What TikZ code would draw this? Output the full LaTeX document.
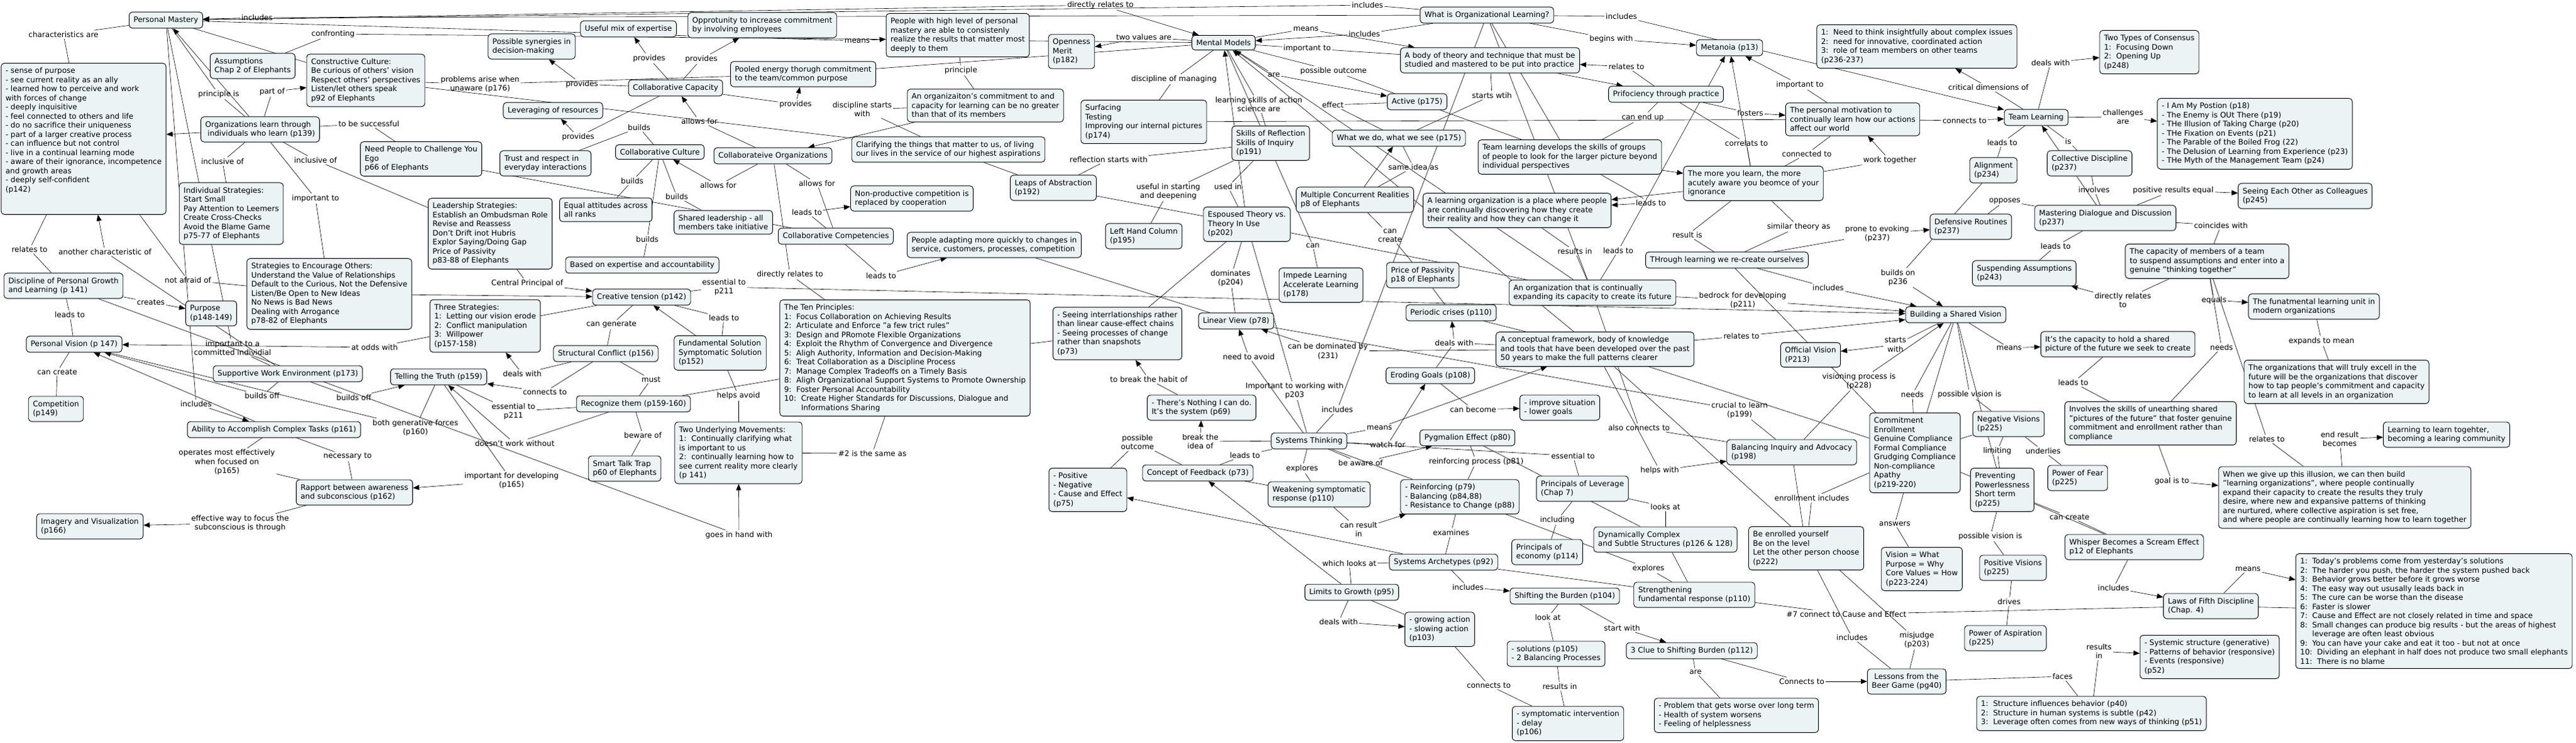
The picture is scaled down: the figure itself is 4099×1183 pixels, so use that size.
\documentclass[tikz,border=0pt]{standalone}
\usepackage{fontspec}
\setmainfont{DejaVu Sans}
\usetikzlibrary{arrows.meta,backgrounds}
\definecolor{cmfill}{RGB}{236,243,245}

\begin{document}
\begin{tikzpicture}[x=1pt,y=-1pt,>={Triangle[length=10pt,width=8pt]},
    every edge/.style={draw,line width=0.6pt},
    concept/.style={draw,line width=0.9pt,rounded corners=5pt,fill=cmfill,align=left,
      inner xsep=7pt,inner ysep=7pt,font=\fontsize{12}{14.5}\selectfont},
    link/.style={align=center,inner sep=2pt,font=\fontsize{12}{14.5}\selectfont}]
  \useasboundingbox (0,0) rectangle (4099,1183);

  % personal mastery
  \node[concept] (pm) at (264,32) {Personal Mastery};
  \node[concept] (pmlist) at (133,221) {- sense of purpose\\- see current reality as an ally\\- learned how to perceive and work\\with forces of change\\- deeply inquisitive\\- feel connected to others and life\\- do no sacrifice their uniqueness\\- part of a larger creative process\\- can influence but not control\\- live in a continual learning mode\\- aware of their ignorance, incompetence\\and growth areas\\- deeply self-confident\\(p142)\\~\\~};
  \node[concept] (assum) at (402,105) {Assumptions\\Chap 2 of Elephants};
  \node[concept] (cculture) at (582,128) {Constructive Culture:\\Be curious of others' vision\\Respect others' perspectives\\Listen/let others speak\\p92 of Elephants};
  \node[concept] (orglearn) at (414,206) {Organizations learn through\\\ individuals who learn (p139)};
  \node[concept] (needppl) at (670,253) {Need People to Challenge You\\Ego\\p66 of Elephants};
  \node[concept] (indstrat) at (368,340) {Individual Strategies:\\Start Small\\Pay Attention to Leemers\\Create Cross-Checks\\Avoid the Blame Game\\p75-77 of Elephants};
  \node[concept] (encour) at (524,468) {Strategies to Encourage Others:\\Understand the Value of Relationships\\Default to the Curious, Not the Defensive\\Listen/Be Open to New Ideas\\No News is Bad News\\Dealing with Arrogance\\p78-82 of Elephants};
  \node[concept] (discpg) at (101,455) {Discipline of Personal Growth\\and Learning (p 141)};
  \node[concept] (purpose) at (336,499) {Purpose\\(p148-149)};
  \node[concept] (pvision) at (118,548) {Personal Vision (p 147)};
  \node[concept] (supwork) at (458,595) {Supportive Work Environment (p173)};
  \node[concept] (truth) at (698,600) {Telling the Truth (p159)};
  \node[concept] (compet) at (89,651) {Competition\\(p149)};
  \node[concept] (ability) at (436,684) {Ability to Accomplish Complex Tasks (p161)};
  \node[concept] (rapport) at (564,784) {Rapport between awareness\\and subconscious (p162)};
  \node[concept] (imagery) at (143,838) {Imagery and Visualization\\(p166)};

  % collaboration
  \node[concept] (useful) at (1000,46) {Useful mix of expertise};
  \node[concept] (opport) at (1213,40) {Opprotunity to increase commitment\\by involving employees};
  \node[concept] (synerg) at (846,74) {Possible synergies in\\decision-making};
  \node[concept] (pooled) at (1278,118) {Pooled energy thorugh commitment\\to the team/common purpose};
  \node[concept] (ccap) at (1075,140) {Collaborative Capacity};
  \node[concept] (leverag) at (880,176) {Leveraging of resources};
  \node[concept] (colculture) at (1050,242) {Collaborative Culture};
  \node[concept] (colorg) at (1230,248) {Collaborateive Organizations};
  \node[concept] (trust) at (868,260) {Trust and respect in\\everyday interactions};
  \node[concept] (leadstrat) at (780,372) {Leadership Strategies:\\Establish an Ombudsman Role\\Revise and Reassess\\Don't Drift inot Hubris\\Explor Saying/Doing Gap\\Price of Passivity\\p83-88 of Elephants};
  \node[concept] (equal) at (964,334) {Equal attitudes across\\all ranks};
  \node[concept] (shared) at (1151,354) {Shared leadership - all\\members take initiative};
  \node[concept] (nonprod) at (1451,316) {Non-productive competition is\\replaced by cooperation};
  \node[concept] (colcomp) at (1330,376) {Collaborative Competencies};
  \node[concept] (basedexp) at (1022,422) {Based on expertise and accountability};
  \node[concept] (ctension) at (1021,473) {Creative tension (p142)};
  \node[concept] (threestrat) at (772,519) {Three Strategies:\\1:~~Letting our vision erode\\2:~~Conflict manipulation\\3:~~Willpower\\(p157-158)};
  \node[concept] (tenprinc) at (1440,570) {The Ten Principles:\\1:~~Focus Collaboration on Achieving Results\\2:~~Articulate and Enforce "a few trict rules"\\3:~~Design and PRomote Flexible Organizations\\4:~~Exploit the Rhythm of Convergence and Divergence\\5:~~Aligh Authority, Information and Decision-Making\\6:~~Treat Collaboration as a Discipline Process\\7:~~Manage Complex Tradeoffs on a Timely Basis\\8:~~Aligh Organizational Support Systems to Promote Ownership\\9:~~Foster Personal Accountability\\10:~~Create Higher Standards for Discussions, Dialogue and\\\hphantom{10:~~}Informations Sharing};
  \node[concept] (structc) at (964,563) {Structural Conflict (p156)};
  \node[concept] (fundsol) at (1146,562) {Fundamental Solution\\Symptomatic Solution\\(p152)};
  \node[concept] (recog) at (1008,643) {Recognize them (p159-160)};
  \node[concept] (twomove) at (1175,721) {Two Underlying Movements:\\1:~~Continually clarifying what\\is important to us\\2:~~continually learning how to\\see current reality more clearly\\(p 141)};
  \node[concept] (smarttalk) at (994,746) {Smart Talk Trap\\p60 of Elephants};

  % mental models
  \node[concept] (people) at (1524,56) {People with high level of personal\\mastery are able to consistenly\\realize the results that matter most\\deeply to them};
  \node[concept] (openness) at (1705,82) {Openness\\Merit\\(p182)};
  \node[concept] (mm) at (1947,68) {Mental Models};
  \node[concept] (orgcommit) at (1568,168) {An organizaiton's commitment to and\\capacity for learning can be no greater\\than that of its members};
  \node[concept] (surfacing) at (1820,194) {Surfacing\\Testing\\Improving our internal pictures\\(p174)};
  \node[concept] (clarify) at (1509,238) {Clarifying the things that matter to us, of living\\our lives in the service of our highest aspirations};
  \node[concept] (skills) at (2022,228) {Skills of Reflection\\Skills of Inquiry\\(p191)};
  \node[concept] (leaps) at (1676,299) {Leaps of Abstraction\\(p192)};
  \node[concept] (lefthand) at (1820,376) {Left Hand Column\\(p195)};
  \node[concept] (espoused) at (1984,357) {Espoused Theory vs.\\Theory In Use\\(p202)};
  \node[concept] (adapting) at (1582,390) {People adapting more quickly to changes in\\service, customers, processes, competition};
  \node[concept] (impede) at (2102,454) {Impede Learning\\Accelerate Learning\\(p178)};
  \node[concept] (seeing) at (1778,531) {- Seeing interrlationships rather\\than linear cause-effect chains\\- Seeing processes of change\\rather than snapshots\\(p73)};
  \node[concept] (linear) at (1967,511) {Linear View (p78)};
  \node[concept] (nothing) at (1912,649) {- There's Nothing I can do.\\It's the system (p69)};
  \node[concept] (systhink) at (2083,702) {Systems Thinking};
  \node[concept] (feedback) at (1906,753) {Concept of Feedback (p73)};
  \node[concept] (posneg) at (1731,780) {- Positive\\- Negative\\- Cause and Effect\\(p75)};
  \node[concept] (weaken) at (2099,787) {Weakening symptomatic\\response (p110)};

  % organizational learning
  \node[concept] (wol) at (2366,24) {What is Organizational Learning?};
  \node[concept] (metanoia) at (2752,76) {Metanoia (p13)};
  \node[concept] (bodyth) at (2371,96) {A body of theory and technique that must be\\studied and mastered to be put into practice};
  \node[concept] (prof) at (2651,150) {Prifociency through practice};
  \node[concept] (active) at (2255,162) {Active (p175)};
  \node[concept] (whatwedo) at (2226,220) {What we do, what we see (p175)};
  \node[concept] (teamdev) at (2498,250) {Team learning develops the skills of groups\\of people to look for the larger picture beyond\\individual perspectives};
  \node[concept] (moreyou) at (2790,292) {The more you learn, the more\\acutely aware you beomce of your\\ignorance};
  \node[concept] (multiple) at (2156,318) {Multiple Concurrent Realities\\p8 of Elephants};
  \node[concept] (lorgplace) at (2414,335) {A learning organization is a place where people\\are continually discovering how they create\\their reality and how they can change it};
  \node[concept] (through) at (2748,414) {THrough learning we re-create ourselves};
  \node[concept] (passivity) at (2264,438) {Price of Passivity\\p18 of Elephants};
  \node[concept] (expanding) at (2534,466) {An organization that is continually\\expanding its capacity to create its future};
  \node[concept] (periodic) at (2309,498) {Periodic crises (p110)};
  \node[concept] (conceptual) at (2538,556) {A conceptual framework, body of knowledge\\and tools that have been developed over the past\\50 years to make the full patterns clearer};

  % systems thinking
  \node[concept] (eroding) at (2276,598) {Eroding Goals (p108)};
  \node[concept] (improve) at (2482,649) {- improve situation\\- lower goals};
  \node[concept] (pygmalion) at (2335,697) {Pygmalion Effect (p80)};
  \node[concept] (reinforcing) at (2323,791) {- Reinforcing (p79)\\- Balancing (p84,88)\\- Resistance to Change (p88)};
  \node[concept] (leverage) at (2518,778) {Principals of Leverage\\(Chap 7)};
  \node[concept] (dynamic) at (2650,859) {Dynamically Complex\\and Subtle Structures (p126 \& 128)};
  \node[concept] (economy) at (2462,879) {Principals of\\economy (p114)};
  \node[concept] (archetypes) at (2297,895) {Systems Archetypes (p92)};
  \node[concept] (limits) at (2151,943) {Limits to Growth (p95)};
  \node[concept] (shifting) at (2490,949) {Shifting the Burden (p104)};
  \node[concept] (strength) at (2696,947) {Strengthening\\fundamental response (p110)};
  \node[concept] (growing) at (2291,1002) {- growing action\\- slowing action\\(p103)};
  \node[concept] (clue) at (2692,1036) {3 Clue to Shifting Burden (p112)};
  \node[concept] (solutions) at (2476,1041) {- solutions (p105)\\- 2 Balancing Processes};
  \node[concept] (symptomatic) at (2495,1152) {- symptomatic intervention\\- delay\\(p106)};
  \node[concept] (problem) at (2763,1139) {- Problem that gets worse over long term\\- Health of system worsens\\- Feeling of helplessness};

  % team learning
  \node[concept] (needthink) at (3050,74) {1:~~Need to think insightfully about complex issues\\2:~~need for innovative, coordinated action\\3:~~role of team members on other teams\\(p236-237)};
  \node[concept] (consensus) at (3420,83) {Two Types of Consensus\\1:~~Focusing Down\\2:~~Opening Up\\(p248)};
  \node[concept] (motivation) at (2948,190) {The personal motivation to\\continually learn how our actions\\affect our world};
  \node[concept] (teamlearn) at (3240,187) {Team Learning};
  \node[concept] (alignment) at (3172,271) {Alignment\\(p234)};
  \node[concept] (collective) at (3325,260) {Collective Discipline\\(p237)};
  \node[concept] (mastering) at (3350,347) {Mastering Dialogue and Discussion\\(p237)};
  \node[concept] (defensive) at (3136,361) {Defensive Routines\\(p237)};
  \node[concept] (capacity) at (3512,416) {The capacity of members of a team\\to suspend assumptions and enter into a\\genuine "thinking together"};
  \node[concept] (suspending) at (3221,435) {Suspending Assumptions\\(p243)};
  \node[concept] (iam) at (3588,213) {- I Am My Postion (p18)\\- The Enemy is OUt There (p19)\\- THe Illusion of Taking Charge (p20)\\- THe Fixation on Events (p21)\\- The Parable of the Boiled Frog (22)\\- The Delusion of Learning from Experience (p23)\\- THe Myth of the Management Team (p24)};
  \node[concept] (colleagues) at (3668,312) {Seeing Each Other as Colleagues\\(p245)};
  \node[concept] (fundunit) at (3682,488) {The funatmental learning unit in\\modern organizations};
  \node[concept] (truly) at (3718,608) {The organizations that will truly excell in the\\future will be the organizations that discover\\how to tap people's commitment and capacity\\to learn at all levels in an organization};

  % shared vision
  \node[concept] (bsv) at (3112,501) {Building a Shared Vision};
  \node[concept] (official) at (2881,565) {Official Vision\\(P213)};
  \node[concept] (itscap) at (3370,548) {It's the capacity to hold a shared\\picture of the future we seek to create};
  \node[concept] (commitment) at (3047,721) {Commitment\\Enrollment\\Genuine Compliance\\Formal Compliance\\Grudging Compliance\\Non-compliance\\Apathy\\(p219-220)};
  \node[concept] (negative) at (3196,675) {Negative Visions\\(p225)};
  \node[concept] (involves) at (3422,674) {Involves the skills of unearthing shared\\"pictures of the future" that foster genuine\\commitment and enrollment rather than\\compliance};
  \node[concept] (balancing) at (2851,720) {Balancing Inquiry and Advocacy\\(p198)};
  \node[concept] (fear) at (3306,761) {Power of Fear\\(p225)};
  \node[concept] (preventing) at (3186,780) {Preventing\\Powerlessness\\Short term\\(p225)};
  \node[concept] (enrolled) at (2874,873) {Be enrolled yourself\\Be on the level\\Let the other person choose\\(p222)};
  \node[concept] (whisper) at (3396,871) {Whisper Becomes a Scream Effect\\p12 of Elephants};
  \node[concept] (vision) at (3058,906) {Vision = What\\Purpose = Why\\Core Values = How\\(p223-224)};
  \node[concept] (positive) at (3203,904) {Positive Visions\\(p225)};
  \node[concept] (aspiration) at (3191,1016) {Power of Aspiration\\(p225)};
  \node[concept] (beer) at (3034,1085) {\ Lessons from the\\Beer Game (pg40)};
  \node[concept] (structure) at (3328,1136) {1:~~Structure influences behavior (p40)\\2:~~Structure in human systems is subtle (p42)\\3:~~Leverage often comes from new ways of thinking (p51)};
  \node[concept] (systemic) at (3516,1046) {- Systemic structure (generative)\\- Patterns of behavior (responsive)\\- Events (responsive)\\(p52)};
  \node[concept] (learntolearn) at (3893,692) {Learning to learn togehter,\\becoming a learing community};
  \node[concept] (illusion) at (3731,792) {When we give up this illusion, we can then build\\"learning organizations", where people continually\\expand their capacity to create the results they truly\\desire, where new and expansive patterns of thinking\\are nurtured, where collective aspiration is set free,\\and where people are continually learning how to learn together};
  \node[concept] (laws) at (3518,965) {Laws of Fifth Discipline\\(Chap. 4)};
  \node[concept] (lawlist) at (3873,973) {1:~~Today's problems come from yesterday's solutions\\2:~~The harder you push, the harder the system pushed back\\3:~~Behavior grows better before it grows worse\\4:~~The easy way out ususally leads back in\\5:~~The cure can be worse than the disease\\6:~~Faster is slower\\7:~~Cause and Effect are not closely related in time and space\\8:~~Small changes can produce big results - but the areas of highest\\\hphantom{8:~~}leverage are often least obvious\\9:~~You can have your cake and eat it too - but not at once\\10:~~Dividing an elephant in half does not produce two small elephants\\11:~~There is no blame};

  % linking phrases
  \node[link] (l1) at (101,55) {characteristics are};
  \node[link] (l2) at (530,54) {confronting};
  \node[link] (l3) at (348,150) {principle is};
  \node[link] (l4) at (433,146) {part of};
  \node[link] (l5) at (587,197) {to be successful};
  \node[link] (l6) at (354,257) {inclusive of};
  \node[link] (l7) at (502,255) {inclusive of};
  \node[link] (l8) at (502,316) {important to};
  \node[link] (l9) at (47,397) {relates to};
  \node[link] (l10) at (167,401) {another characteristic of};
  \node[link] (l11) at (299,446) {not afraid of};
  \node[link] (l12) at (240,481) {creates};
  \node[link] (l13) at (111,501) {leads to};
  \node[link] (l14) at (370,554) {important to a\\committed individial};
  \node[link] (l15) at (596,553) {at odds with};
  \node[link] (l16) at (91,592) {can create};
  \node[link] (l17) at (417,630) {builds off};
  \node[link] (l18) at (563,633) {builds off};
  \node[link] (l19) at (312,643) {includes};
  \node[link] (l20) at (661,681) {both generative forces\\(p160)};
  \node[link] (l21) at (361,736) {operates most effectively\\when focused on\\(p165)};
  \node[link] (l22) at (553,727) {necessary to};
  \node[link] (l23) at (382,833) {effective way to focus the\\subconscious is through};
  \node[link] (l24) at (409,28) {includes};
  \node[link] (l25) at (1033,93) {provides};
  \node[link] (l26) at (1116,94) {provides};
  \node[link] (l27) at (764,134) {problems arise when\\unaware (p176)};
  \node[link] (l28) at (926,134) {provides};
  \node[link] (l29) at (1266,166) {provides};
  \node[link] (l30) at (1017,203) {builds};
  \node[link] (l31) at (1113,193) {allows for};
  \node[link] (l32) at (920,218) {provides};
  \node[link] (l33) at (1006,288) {builds};
  \node[link] (l34) at (1143,295) {allows for};
  \node[link] (l35) at (1300,292) {allows for};
  \node[link] (l36) at (1077,313) {builds};
  \node[link] (l37) at (1284,338) {leads to};
  \node[link] (l38) at (1030,381) {builds};
  \node[link] (l39) at (1257,437) {directly relates to};
  \node[link] (l40) at (839,451) {Central Principal of};
  \node[link] (l41) at (1152,457) {essential to\\p211};
  \node[link] (l42) at (973,517) {can generate};
  \node[link] (l43) at (1152,506) {leads to};
  \node[link] (l44) at (831,595) {deals with};
  \node[link] (l45) at (1036,604) {must};
  \node[link] (l46) at (867,624) {connects to};
  \node[link] (l47) at (1175,630) {helps avoid};
  \node[link] (l48) at (817,655) {essential to\\p211};
  \node[link] (l49) at (819,706) {doesn't work without};
  \node[link] (l50) at (1023,693) {beware of};
  \node[link] (l51) at (1388,722) {\#2 is the same as};
  \node[link] (l52) at (814,765) {important for developing\\(p165)};
  \node[link] (l53) at (1176,852) {goes in hand with};
  \node[link] (l54) at (1751,8) {directly relates to};
  \node[link] (l55) at (1364,65) {means};
  \node[link] (l56) at (1820,59) {two values are};
  \node[link] (l57) at (1529,112) {principle};
  \node[link] (l58) at (1868,126) {discipline of managing};
  \node[link] (l59) at (1372,174) {discipline starts\\with};
  \node[link] (l60) at (2003,166) {learning skills of action\\science are};
  \node[link] (l61) at (1764,254) {reflection starts with};
  \node[link] (l62) at (1859,305) {useful in starting\\and deepening};
  \node[link] (l63) at (1954,297) {used in};
  \node[link] (l64) at (1402,439) {leads to};
  \node[link] (l65) at (1958,443) {dominates\\(p204)};
  \node[link] (l66) at (1987,568) {need to avoid};
  \node[link] (l67) at (1828,604) {to break the habit of};
  \node[link] (l68) at (2060,622) {Important to working with\\p203};
  \node[link] (l69) at (1810,704) {possible\\outcome};
  \node[link] (l70) at (1910,703) {break the\\idea of};
  \node[link] (l71) at (1981,725) {leads to};
  \node[link] (l72) at (2072,746) {explores};
  \node[link] (l73) at (2176,8) {includes};
  \node[link] (l74) at (2580,26) {includes};
  \node[link] (l75) at (2078,46) {means};
  \node[link] (l76) at (2171,54) {includes};
  \node[link] (l77) at (2080,77) {important to};
  \node[link] (l78) at (2564,62) {begins with};
  \node[link] (l79) at (2122,113) {possible outcome};
  \node[link] (l80) at (2588,106) {relates to};
  \node[link] (l81) at (2027,119) {are};
  \node[link] (l82) at (2374,152) {starts wtih};
  \node[link] (l83) at (2121,167) {effect};
  \node[link] (l84) at (2614,187) {can end up};
  \node[link] (l85) at (2249,266) {same idea as};
  \node[link] (l86) at (2627,323) {leads to};
  \node[link] (l87) at (2212,375) {can\\create};
  \node[link] (l88) at (2089,391) {can};
  \node[link] (l89) at (2685,374) {result is};
  \node[link] (l90) at (2506,400) {results in};
  \node[link] (l91) at (2575,399) {leads to};
  \node[link] (l92) at (2773,478) {bedrock for developing\\(p211)};
  \node[link] (l93) at (2113,559) {can be dominated by\\(231)};
  \node[link] (l94) at (2314,546) {deals with};
  \node[link] (l95) at (2128,652) {includes};
  \node[link] (l96) at (2344,652) {can become};
  \node[link] (l97) at (2195,681) {means};
  \node[link] (l98) at (2208,708) {watch for};
  \node[link] (l99) at (2608,681) {also connects to};
  \node[link] (l100) at (2503,726) {essential to};
  \node[link] (l101) at (2165,737) {be aware of};
  \node[link] (l102) at (2349,735) {reinforcing process (p81)};
  \node[link] (l103) at (2641,749) {helps with};
  \node[link] (l104) at (2650,807) {looks at};
  \node[link] (l105) at (2478,828) {including};
  \node[link] (l106) at (2162,843) {can result\\in};
  \node[link] (l107) at (2309,848) {examines};
  \node[link] (l108) at (2147,897) {which looks at};
  \node[link] (l109) at (2623,905) {explores};
  \node[link] (l110) at (2336,935) {includes};
  \node[link] (l111) at (2130,990) {deals with};
  \node[link] (l112) at (2463,983) {look at};
  \node[link] (l113) at (2581,1000) {start with};
  \node[link] (l114) at (2698,1070) {are};
  \node[link] (l115) at (2369,1091) {connects to};
  \node[link] (l116) at (2482,1093) {results in};
  \node[link] (l117) at (3263,100) {deals with};
  \node[link] (l118) at (2864,135) {important to};
  \node[link] (l119) at (3164,139) {critical dimensions of};
  \node[link] (l120) at (2785,180) {fosters};
  \node[link] (l121) at (3126,192) {connects to};
  \node[link] (l122) at (3378,186) {challenges\\are};
  \node[link] (l123) at (3186,227) {leads to};
  \node[link] (l124) at (3291,225) {is};
  \node[link] (l125) at (2779,228) {correlats to};
  \node[link] (l126) at (2875,245) {connected to};
  \node[link] (l127) at (3007,255) {work together};
  \node[link] (l128) at (3332,302) {involves};
  \node[link] (l129) at (3458,303) {positive results equal};
  \node[link] (l130) at (3190,320) {opposes};
  \node[link] (l131) at (2862,361) {similar theory as};
  \node[link] (l132) at (2987,372) {prone to evoking\\(p237)};
  \node[link] (l133) at (3271,392) {leads to};
  \node[link] (l134) at (3020,442) {builds on\\p236};
  \node[link] (l135) at (2909,458) {includes};
  \node[link] (l136) at (3378,478) {directly relates\\to};
  \node[link] (l137) at (2771,535) {relates to};
  \node[link] (l138) at (3016,549) {starts\\with};
  \node[link] (l139) at (3197,554) {means};
  \node[link] (l140) at (3534,359) {coincides with};
  \node[link] (l141) at (3523,478) {equals};
  \node[link] (l142) at (3535,553) {needs};
  \node[link] (l143) at (3694,543) {expands to mean};
  \node[link] (l144) at (2958,607) {visioning process is\\(p228)};
  \node[link] (l145) at (3299,609) {leads to};
  \node[link] (l146) at (3043,628) {needs};
  \node[link] (l147) at (3134,628) {possible vision is};
  \node[link] (l148) at (2768,653) {crucial to learn\\(p199)};
  \node[link] (l149) at (3178,718) {limiting};
  \node[link] (l150) at (3251,718) {underlies};
  \node[link] (l151) at (2883,793) {enrollment includes};
  \node[link] (l152) at (3293,823) {can create};
  \node[link] (l153) at (3015,834) {answers};
  \node[link] (l154) at (3167,854) {possible vision is};
  \node[link] (l155) at (3363,936) {includes};
  \node[link] (l156) at (3197,958) {drives};
  \node[link] (l157) at (2938,978) {\#7 connect to Cause and Effect};
  \node[link] (l158) at (2947,1015) {includes};
  \node[link] (l159) at (3050,1019) {misjudge\\(p203)};
  \node[link] (l160) at (3340,1037) {results\\in};
  \node[link] (l161) at (2867,1085) {Connects to};
  \node[link] (l162) at (3282,1077) {faces};
  \node[link] (l163) at (3607,699) {relates to};
  \node[link] (l164) at (3723,699) {end result\\becomes};
  \node[link] (l165) at (3456,766) {goal is to};
  \node[link] (l166) at (3577,906) {means};

  \begin{pgfonlayer}{background}
  % concept -- phrase -- concept
  \path
    (pm) edge (l1) (l1) edge (pmlist)
    (mm) edge (l2) (l2) edge (assum)
    (pm) edge (l3) (l3) edge (orglearn)
    (orglearn) edge (l4) (l4) edge[->] (cculture)
    (orglearn) edge (l5) (l5) edge (needppl)
    (orglearn) edge (l6) (l6) edge (indstrat)
    (orglearn) edge (l7) (l7) edge (leadstrat)
    (orglearn) edge (l8) (l8) edge (encour)
    (discpg) edge (l9) (l9) edge (pmlist)
    (supwork) edge (l10) (l10) edge[->] (pmlist)
    (pmlist) edge (l11) (l11) edge (encour)
    (discpg) edge (l12) (l12) edge[->] (purpose)
    (discpg) edge (l13) (l13) edge (pvision)
    (pm) edge (l14) (l14) edge (supwork)
    (threestrat) edge (l15) (l15) edge[->] (pvision)
    (pvision) edge (l16) (l16) edge (compet)
    (supwork) edge (l17) (l17) edge[->] (pvision)
    (supwork) edge (l18) (l18) edge[->] (truth)
    (pm) edge (l19) (l19) edge[->] (ability)
    (pvision) edge (l20) (l20) edge (truth)
    (ability) edge (l21) (l21) edge (rapport)
    (ability) edge (l22) (l22) edge (rapport)
    (rapport) edge (l23) (l23) edge[->] (imagery)
    (wol) edge (l24) (l24) edge[->] (pm)
    (ccap) edge (l25) (l25) edge[->] (useful)
    (ccap) edge (l26) (l26) edge[->] (opport)
    (cculture) edge (l27) (l27) edge (pooled)
    (ccap) edge (l28) (l28) edge[->] (synerg)
    (ccap) edge (l29) (l29) edge[->] (pooled)
    (colculture) edge (l30) (l30) edge (trust)
    (colorg) edge (l31) (l31) edge[->] (ccap)
    (ccap) edge (l32) (l32) edge[->] (leverag)
    (colculture) edge (l33) (l33) edge (equal)
    (colorg) edge (l34) (l34) edge[->] (colculture)
    (colorg) edge (l35) (l35) edge (colcomp)
    (colculture) edge (l36) (l36) edge (shared)
    (colcomp) edge (l37) (l37) edge[->] (nonprod)
    (colculture) edge (l38) (l38) edge (basedexp)
    (colorg) edge (l39) (l39) edge (tenprinc)
    (leadstrat) edge (l40) (l40) edge[->] (ctension)
    (ctension) edge (l41) (l41) edge[->] (bsv)
    (ctension) edge (l42) (l42) edge (structc)
    (ctension) edge (l43) (l43) edge (fundsol)
    (structc) edge (l44) (l44) edge[->] (threestrat)
    (structc) edge (l45) (l45) edge (recog)
    (structc) edge (l46) (l46) edge[->] (truth)
    (fundsol) edge (l47) (l47) edge (twomove)
    (recog) edge (l48) (l48) edge (truth)
    (recog) edge (l49) (l49) edge[->] (truth)
    (recog) edge (l50) (l50) edge (smarttalk)
    (twomove) edge (l51) (l51) edge (tenprinc)
    (truth) edge (l52) (l52) edge[->] (rapport)
    (discpg) edge (l53) (l53) edge[->] (twomove)
    (pm) edge (l54) (l54) edge[->] (mm)
    (pm) edge (l55) (l55) edge[->] (people)
    (mm) edge (l56) (l56) edge[->] (openness)
    (people) edge (l57) (l57) edge (orgcommit)
    (mm) edge (l58) (l58) edge (surfacing)
    (orgcommit) edge (l59) (l59) edge (clarify)
    (mm) edge (l60) (l60) edge (skills)
    (skills) edge (l61) (l61) edge (leaps)
    (skills) edge (l62) (l62) edge (lefthand)
    (skills) edge (l63) (l63) edge (espoused)
    (colcomp) edge (l64) (l64) edge[->] (adapting)
    (espoused) edge (l65) (l65) edge (linear)
    (systhink) edge (l66) (l66) edge[->] (linear)
    (nothing) edge (l67) (l67) edge[->] (seeing)
    (espoused) edge (l68) (l68) edge (systhink)
    (feedback) edge (l69) (l69) edge (posneg)
    (systhink) edge (l70) (l70) edge[->] (nothing)
    (systhink) edge (l71) (l71) edge (feedback)
    (systhink) edge (l72) (l72) edge (weaken)
    (wol) edge (l73) (l73) edge[->] (pm)
    (wol) edge (l74) (l74) edge[->] (teamlearn)
    (mm) edge (l75) (l75) edge[->] (bodyth)
    (wol) edge (l76) (l76) edge[->] (mm)
    (mm) edge (l77) (l77) edge (bodyth)
    (wol) edge (l78) (l78) edge[->] (metanoia)
    (mm) edge (l79) (l79) edge (active)
    (prof) edge (l80) (l80) edge[->] (bodyth)
    (mm) edge (l81) (l81) edge[->] (active)
    (bodyth) edge (l82) (l82) edge (whatwedo)
    (active) edge (l83) (l83) edge (whatwedo)
    (prof) edge (l84) (l84) edge (teamdev)
    (whatwedo) edge (l85) (l85) edge (multiple)
    (teamdev) edge (l86) (l86) edge[->] (lorgplace)
    (multiple) edge (l87) (l87) edge (passivity)
    (mm) edge (l88) (l88) edge (impede)
    (moreyou) edge (l89) (l89) edge (through)
    (lorgplace) edge (l90) (l90) edge (expanding)
    (expanding) edge (l91) (l91) edge[->] (metanoia)
    (expanding) edge (l92) (l92) edge[->] (bsv)
    (conceptual) edge (l93) (l93) edge[->] (linear)
    (conceptual) edge (l94) (l94) edge[->] (periodic) (l94) edge (eroding)
    (wol) edge (l95) (l95) edge (systhink)
    (eroding) edge (l96) (l96) edge[->] (improve)
    (systhink) edge (l97) (l97) edge[->] (conceptual)
    (systhink) edge (l98) (l98) edge[->] (eroding)
    (expanding) edge (l99) (l99) edge (balancing)
    (systhink) edge (l100) (l100) edge (leverage)
    (systhink) edge (l101) (l101) edge[->] (pygmalion)
    (pygmalion) edge (l102) (l102) edge (reinforcing)
    (conceptual) edge (l103) (l103) edge[->] (balancing)
    (leverage) edge (l104) (l104) edge (dynamic)
    (leverage) edge (l105) (l105) edge (economy)
    (weaken) edge (l106) (l106) edge[->] (reinforcing)
    (archetypes) edge (l107) (l107) edge (reinforcing)
    (archetypes) edge (l108) (l108) edge (limits)
    (reinforcing) edge (l109) (l109) edge (strength)
    (archetypes) edge (l110) (l110) edge[->] (shifting)
    (limits) edge (l111) (l111) edge[->] (growing)
    (shifting) edge (l112) (l112) edge (solutions)
    (shifting) edge (l113) (l113) edge[->] (clue)
    (clue) edge (l114) (l114) edge (problem)
    (growing) edge (l115) (l115) edge (symptomatic)
    (solutions) edge (l116) (l116) edge (symptomatic)
    (teamlearn) edge (l117) (l117) edge[->] (consensus)
    (motivation) edge (l118) (l118) edge[->] (metanoia)
    (teamlearn) edge (l119) (l119) edge[->] (needthink)
    (prof) edge (l120) (l120) edge[->] (motivation)
    (motivation) edge (l121) (l121) edge[->] (teamlearn)
    (teamlearn) edge (l122) (l122) edge[->] (iam)
    (teamlearn) edge (l123) (l123) edge (alignment)
    (teamlearn) edge (l124) (l124) edge (collective)
    (prof) edge (l125) (l125) edge (moreyou)
    (motivation) edge (l126) (l126) edge (moreyou)
    (moreyou) edge (l127) (l127) edge[->] (motivation)
    (collective) edge (l128) (l128) edge (mastering)
    (mastering) edge (l129) (l129) edge[->] (colleagues)
    (mastering) edge (l130) (l130) edge (defensive)
    (through) edge (l131) (l131) edge (moreyou)
    (through) edge (l132) (l132) edge[->] (defensive)
    (mastering) edge (l133) (l133) edge (suspending)
    (alignment) edge (l134) (l134) edge[->] (bsv)
    (through) edge (l135) (l135) edge[->] (bsv)
    (capacity) edge (l136) (l136) edge[->] (suspending)
    (conceptual) edge (l137) (l137) edge[->] (bsv)
    (bsv) edge (l138) (l138) edge[->] (official)
    (bsv) edge (l139) (l139) edge[->] (itscap)
    (mastering) edge (l140) (l140) edge (capacity)
    (capacity) edge (l141) (l141) edge[->] (fundunit)
    (capacity) edge (l142) (l142) edge (involves)
    (fundunit) edge (l143) (l143) edge (truly)
    (balancing) edge (l144) (l144) edge[->] (bsv)
    (itscap) edge (l145) (l145) edge (involves)
    (bsv) edge (l146) (l146) edge (commitment)
    (bsv) edge (l147) (l147) edge (negative)
    (linear) edge (l148) (l148) edge (balancing)
    (negative) edge (l149) (l149) edge (preventing)
    (negative) edge (l150) (l150) edge (fear)
    (commitment) edge (l151) (l151) edge (enrolled)
    (preventing) edge (l152) (l152) edge (whisper)
    (commitment) edge (l153) (l153) edge (vision)
    (preventing) edge (l154) (l154) edge (positive)
    (whisper) edge (l155) (l155) edge[->] (laws)
    (positive) edge (l156) (l156) edge (aspiration)
    (strength) edge (l157) (l157) edge (laws)
    (enrolled) edge (l158) (l158) edge (beer)
    (conceptual) edge (l159) (l159) edge (beer)
    (structure) edge (l160) (l160) edge[->] (systemic)
    (clue) edge (l161) (l161) edge[->] (beer)
    (beer) edge (l162) (l162) edge (structure)
    (capacity) edge (l163) (l163) edge (illusion)
    (illusion) edge (l164) (l164) edge[->] (learntolearn)
    (involves) edge (l165) (l165) edge[->] (illusion)
    (laws) edge (l166) (l166) edge[->] (lawlist);
  % direct connectors
  \path
    (orglearn) edge[->] (pm)
    (orglearn) edge[->] (pmlist)
    (pm) edge (cculture)
    (ability) edge[->] (pvision)
    (needppl) edge (colcomp)
    (cculture) edge (clarify)
    (orgcommit) edge[->] (colorg)
    (pooled) edge (mm)
    (encour) edge[->] (ctension)
    (threestrat) edge (ctension)
    (fundsol) edge[->] (ctension)
    (recog) edge (tenprinc)
    (clarify) edge (leaps)
    (leaps) edge (espoused)
    (espoused) edge[->] (mm)
    (seeing) edge (espoused)
    (adapting) edge (linear)
    (tenprinc) edge (seeing)
    (archetypes) edge[->] (posneg)
    (limits) edge[->] (feedback)
    (feedback) edge (weaken)
    (systhink) edge (reinforcing)
    (pygmalion) edge (dynamic)
    (archetypes) edge (strength)
    (limits) edge (growing)
    (dynamic) edge (strength)
    (conceptual) edge[->] (mm)
    (expanding) edge[->] (mm)
    (multiple) edge[->] (whatwedo)
    (passivity) edge (periodic)
    (periodic) edge (conceptual)
    (moreyou) edge[->] (lorgplace)
    (teamdev) edge[->] (moreyou)
    (bodyth) edge[->] (prof)
    (active) edge (teamdev)
    (surfacing) edge (motivation)
    (espoused) edge (expanding)
    (wol) edge (teamdev)
    (wol) edge (expanding)
    (conceptual) edge (commitment)
    (moreyou) edge[->] (metanoia)
    (mastering) edge[->] (teamlearn)
    (through) edge (commitment)
    (bsv) edge (commitment)
    (bsv) edge (preventing)
    (commitment) edge (negative)
    (commitment) edge (preventing)
    (preventing) edge (whisper)
    (balancing) edge (enrolled)
    (laws) edge (lawlist);
  \end{pgfonlayer}
\end{tikzpicture}
\end{document}
